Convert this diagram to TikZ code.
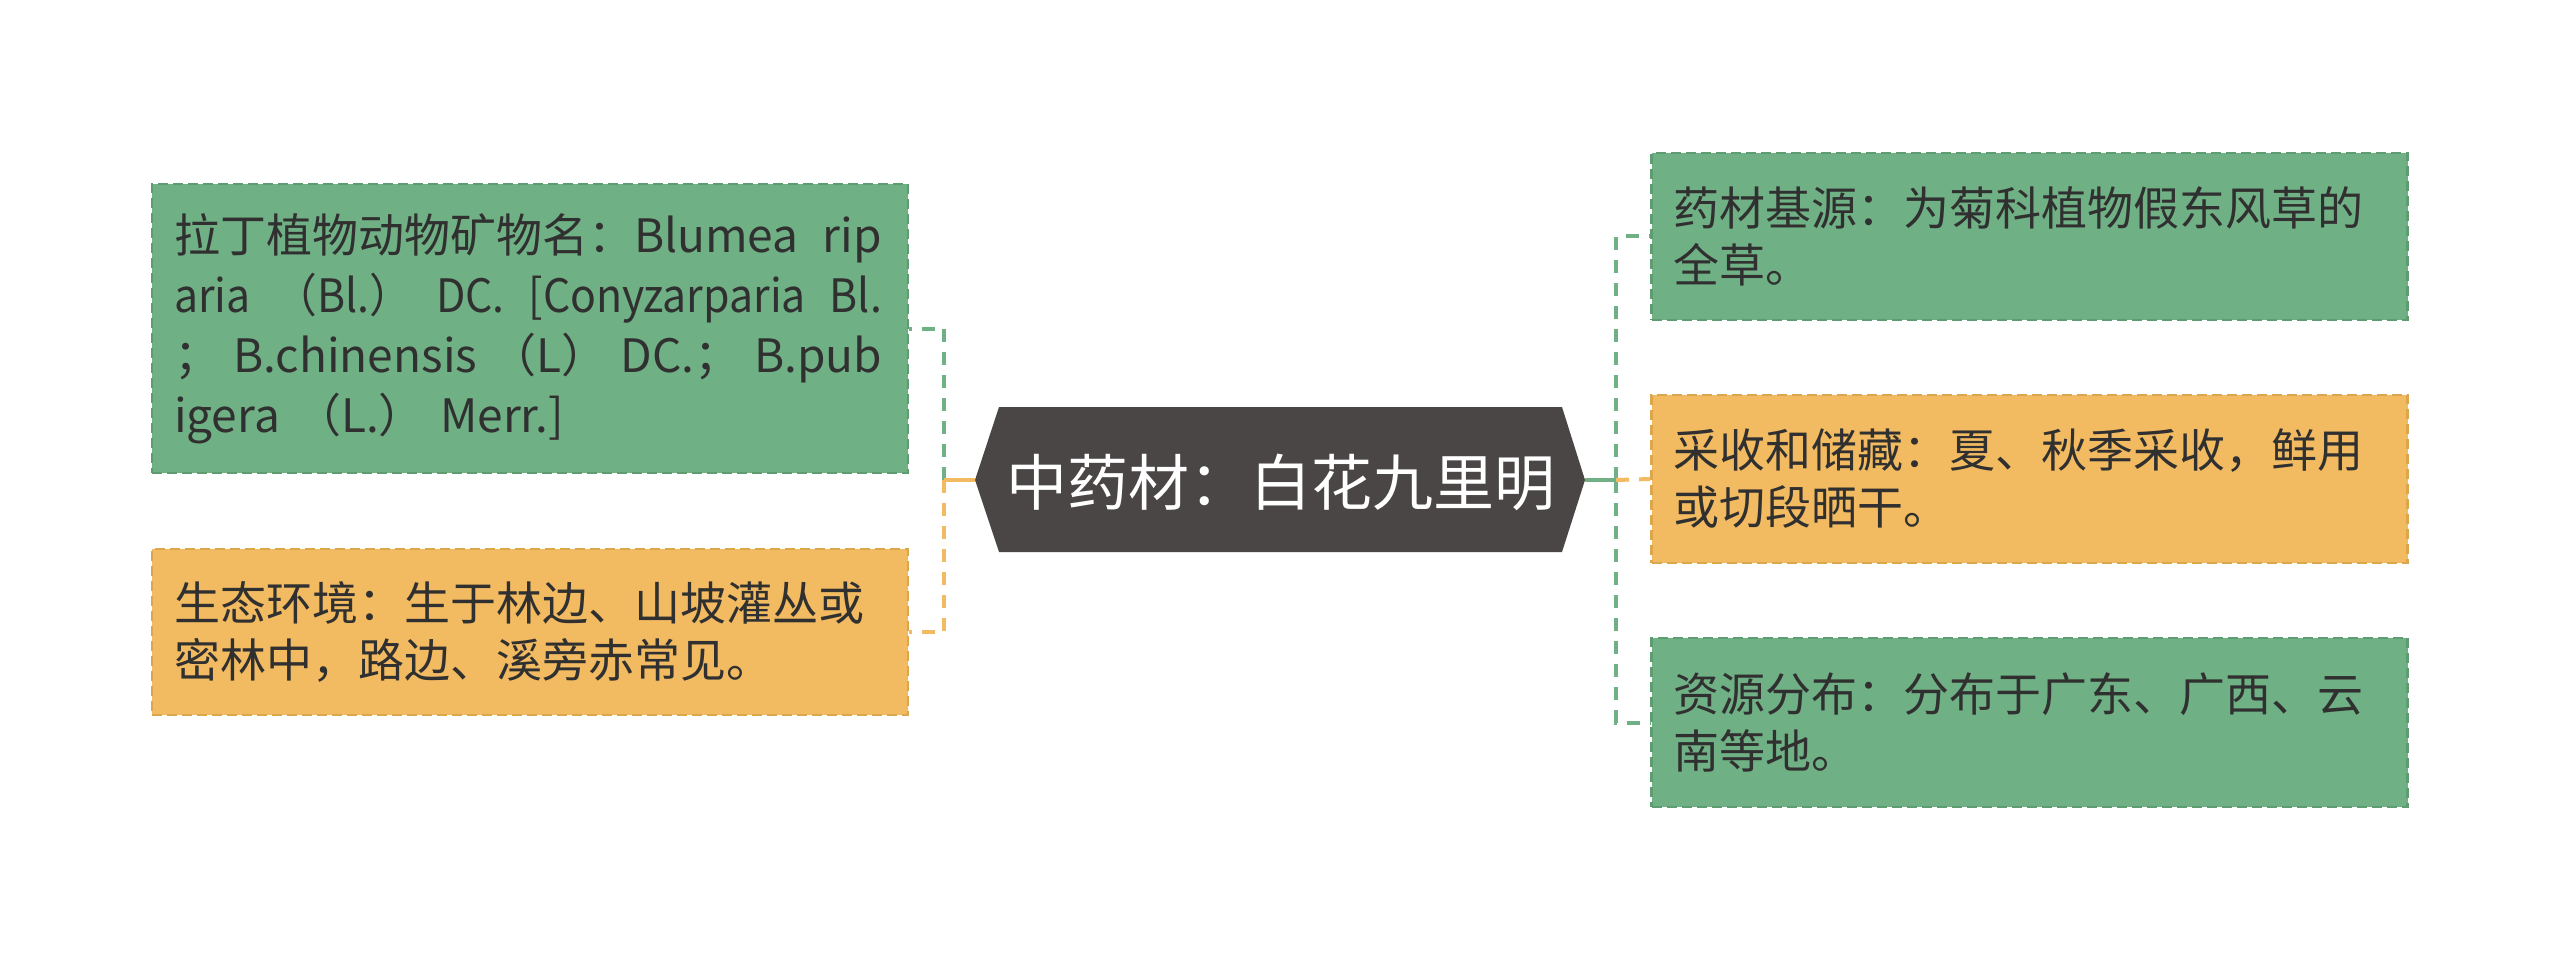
\documentclass[tikz,border=0pt]{standalone}
\usepackage{fontspec}
\newfontfamily\cjk{Noto Sans CJK SC}
\newfontfamily\cjknarrow[FakeStretch=0.93]{Noto Sans CJK SC}
\definecolor{gfill}{HTML}{70B085}
\definecolor{gline}{HTML}{5E9C72}
\definecolor{ofill}{HTML}{F2BB62}
\definecolor{oline}{HTML}{DCA64C}
\definecolor{hexc}{HTML}{4B4646}
\definecolor{txt}{HTML}{303030}
\newcommand{\gp}{\hspace{0pt plus 1fil}}
\tikzset{
  leaf/.style={draw, line width=2.5pt, dash pattern=on 10pt off 5pt, text=txt,
    inner xsep=22pt, inner ysep=0pt, text width=712pt, align=left, anchor=center,
    font=\cjk\fontsize{46}{57}\selectfont},
  gleaf/.style={leaf, fill=gfill, draw=gline},
  oleaf/.style={leaf, fill=ofill, draw=oline},
  link/.style={line width=4pt, dash pattern=on 13pt off 10pt},
  stub/.style={line width=4pt},
}
\begin{document}
\begin{tikzpicture}[x=1pt,y=-1pt]
\useasboundingbox (0,0) rectangle (2560,960);
\fill[white] (0,0) rectangle (2560,960);
% central topic
\fill[hexc] (999,407) -- (1562,407) -- (1585,480) -- (1562,552) -- (999,552) -- (975,480) -- cycle;
\coordinate (rootW) at (975,480);
\coordinate (rootE) at (1585,480);
\node[text=white, font=\cjk\fontsize{61}{70}\selectfont, inner sep=0pt] (root) at (1281,482) {中药材：白花九里明};
% left leaves
\node[gleaf, minimum height=289pt, font=\cjk\fontsize{46}{60}\selectfont] (latin) at (530,328.5)
  {\makebox[708pt][s]{拉丁植物动物矿物名：Blumea\gp rip}\\
   \makebox[708pt][s]{\cjknarrow aria\gp（Bl.）\gp DC.\gp[Conyzarparia\gp Bl.}\\
   \makebox[708pt][s]{；\gp B.chinensis\gp（L）\gp DC.；\gp B.pub}\\
   igera （L.） Merr.]};
\node[oleaf, minimum height=166pt] (env) at (530,632)
  {生态环境：生于林边、山坡灌丛或\\密林中，路边、溪旁赤常见。};
% right leaves
\node[gleaf, minimum height=167pt] (src) at (2029.5,236.5)
  {药材基源：为菊科植物假东风草的\\全草。};
\node[oleaf, minimum height=168pt] (harv) at (2029.5,479)
  {采收和储藏：夏、秋季采收，鲜用\\或切段晒干。};
\node[gleaf, minimum height=169pt] (dist) at (2029.5,722.5)
  {资源分布：分布于广东、广西、云\\南等地。};
% trunks
\coordinate (lt) at (944,480);
\coordinate (rt) at (1616,480);
% left connectors
\draw[link, gfill] (lt) |- (latin.east);
\draw[link, ofill] (lt) |- (env.east);
\draw[stub, ofill] (rootW) -- (lt);
% right connectors
\draw[link, gfill] (rt) |- (src.west);
\draw[link, gfill] (rt) |- (dist.west);
\draw[link, ofill] (rt) -- (harv.west);
\draw[stub, gfill] (rootE) -- (rt);
\end{tikzpicture}
\end{document}
